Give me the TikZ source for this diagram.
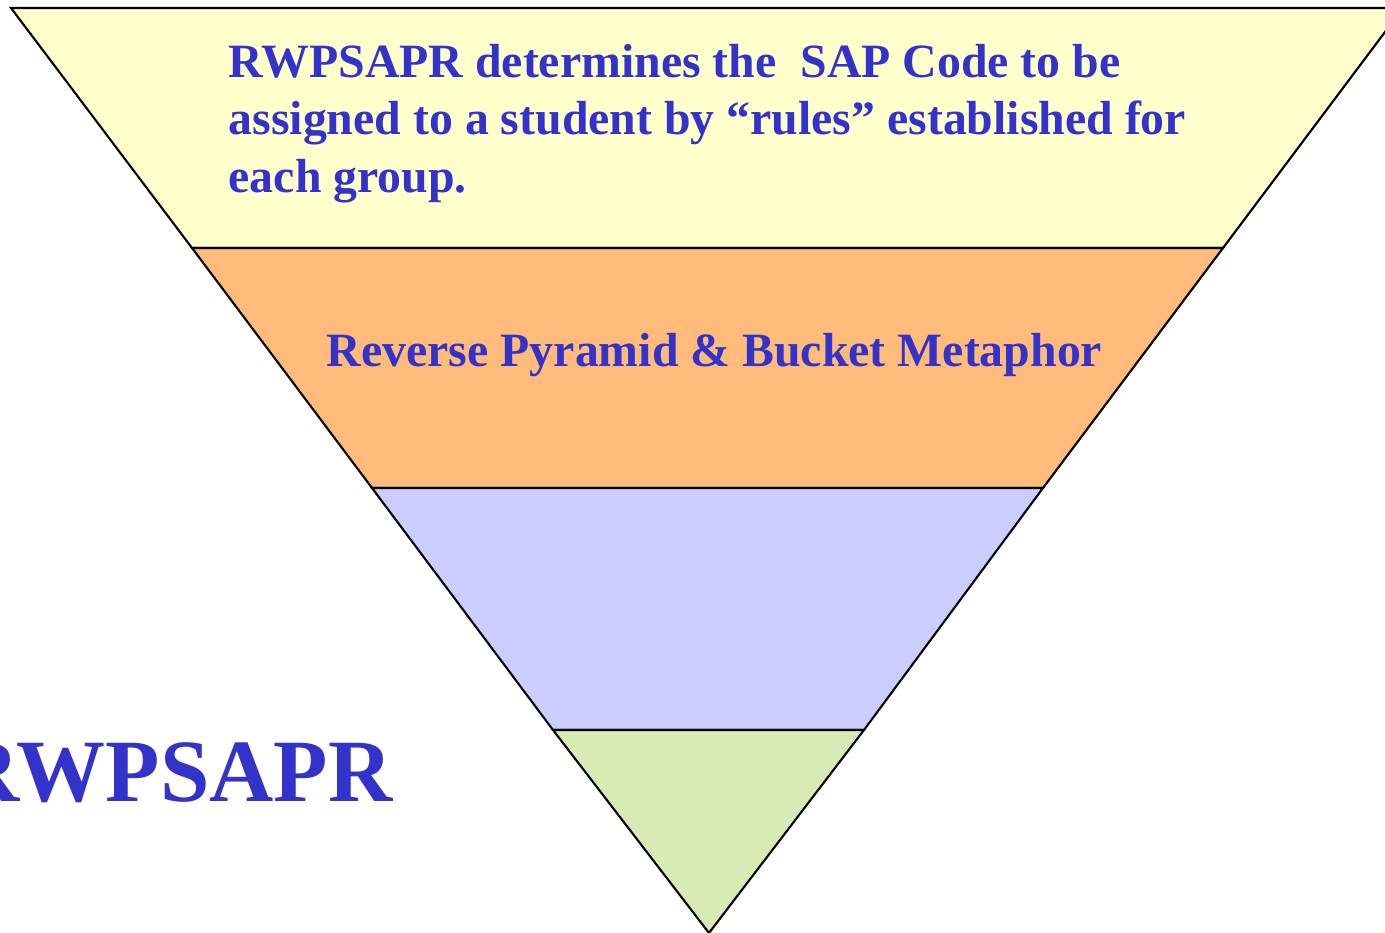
\documentclass[tikz,border=0pt]{standalone}
\usepackage{fontspec}
\setmainfont{Liberation Serif}
\usetikzlibrary{positioning}
\definecolor{bandyellow}{HTML}{FFFFCC}
\definecolor{bandorange}{HTML}{FFBB7A}
\definecolor{bandblue}{HTML}{CCCCFF}
\definecolor{bandgreen}{HTML}{D9EAB5}
\definecolor{textblue}{HTML}{3333CC}
\tikzset{
    band/.style={draw=black,line width=0.6pt,line join=miter},
    bandtext/.style={text=textblue,font=\bfseries\fontsize{13.6}{16.5}\selectfont,inner sep=0pt}
}

\begin{document}
\begin{tikzpicture}
            \clip (0,0) rectangle (13.85,9.33);
            % corners of the bands
            \coordinate (tl) at (0.11,9.25);
            \coordinate (tr) at (14.03,9.25);
            \coordinate (al) at (1.92,6.85);
            \coordinate (ar) at (12.23,6.85);
            \coordinate (bl) at (3.72,4.45);
            \coordinate (br) at (10.43,4.45);
            \coordinate (cl) at (5.53,2.03);
            \coordinate (cr) at (8.64,2.03);
            \coordinate (apex) at (7.09,0);
            \draw[band,fill=bandyellow] (tl)--(tr)--(ar)--(al)--cycle;
            \draw[band,fill=bandorange] (al)--(ar)--(br)--(bl)--cycle;
            \draw[band,fill=bandblue] (bl)--(br)--(cr)--(cl)--cycle;
            \draw[band,fill=bandgreen] (cl)--(cr)--(apex)--cycle;

            \node[bandtext,anchor=base west,align=left] (rules) at (2.28,7.40)
                {RWPSAPR determines the~ SAP Code to be\\assigned to a student by ``rules'' established for\\each group.};
            \node[bandtext,anchor=base] (metaphor) at (7.145,5.66) {Reverse Pyramid \& Bucket Metaphor};
            \node[bandtext,font=\bfseries\fontsize{25.3}{30}\selectfont,anchor=base east] (title) at (3.93,1.31) {RWPSAPR};
\end{tikzpicture}
\end{document}
